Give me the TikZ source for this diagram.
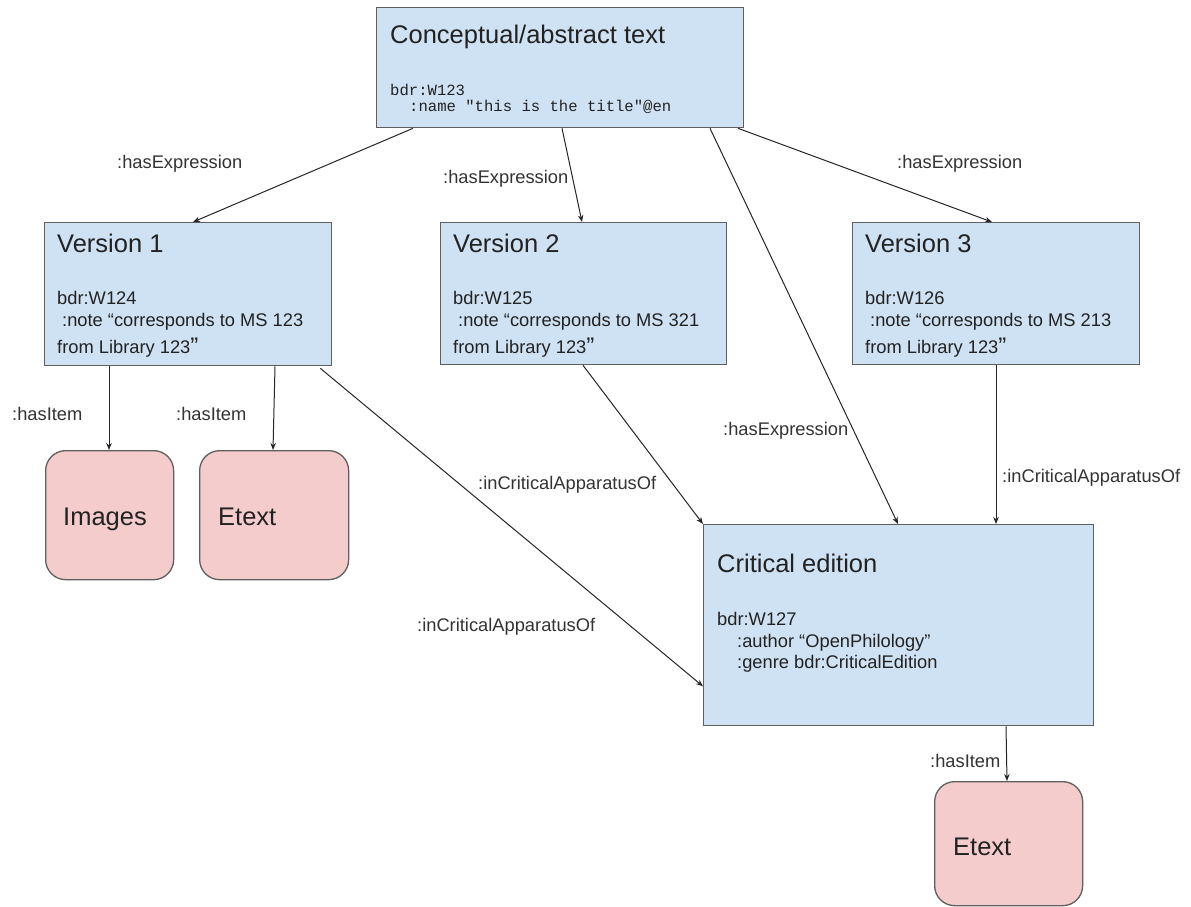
\documentclass[tikz,border=0pt]{standalone}
\usepackage{fontspec}
\setmainfont{Liberation Sans}
\newfontfamily\mycodefam{Liberation Mono}
\usetikzlibrary{arrows.meta}
\definecolor{boxblue}{HTML}{CFE2F3}
\definecolor{itempink}{HTML}{F4CCCC}
\definecolor{bordergray}{HTML}{5F5F5F}
\definecolor{txtcol}{HTML}{222222}
\newcommand\myhdr{\fontsize{25.5}{30}\selectfont}
\newcommand\mybody{\fontsize{18.3}{22}\selectfont}
\newcommand\mycode{\mycodefam\fontsize{15.6}{18}\selectfont}
\newcommand\bigq{{\fontsize{24}{24}\selectfont\raisebox{-1.5pt}{”}}}
\tikzset{
  box/.style={draw=bordergray, fill=boxblue, line width=1.3pt, inner sep=0pt, anchor=north west},
  itembox/.style={draw=bordergray, fill=itempink, line width=1.3pt, inner sep=0pt, anchor=north west, rounded corners=20pt},
  txt/.style={inner sep=0pt, anchor=base west, text=txtcol},
  hdr/.style={txt, font=\myhdr},
  bodytxt/.style={txt, font=\mybody},
  codetxt/.style={txt, font=\mycode},
  lbl/.style={txt, font=\mybody, text=black!80},
  conn/.style={draw=black!85, line width=1pt, -{Stealth[length=7pt,width=5.5pt]}}
}
\begin{document}
\begin{tikzpicture}[x=1pt,y=-1pt]
\useasboundingbox[fill=white] (0,0) rectangle (1191,906);

% boxes
\node[box, minimum width=367pt, minimum height=120pt] (top) at (376,7) {};
\node[box, minimum width=287pt, minimum height=143pt] (v1) at (44,222) {};
\node[box, minimum width=286pt, minimum height=142pt] (v2) at (440,222) {};
\node[box, minimum width=287pt, minimum height=142pt] (v3) at (852,222) {};
\node[itembox, minimum width=128pt, minimum height=129pt] (img) at (45,450) {};
\node[itembox, minimum width=149pt, minimum height=129pt] (et1) at (199,450) {};
\node[box, minimum width=390pt, minimum height=201pt] (crit) at (703,524) {};
\node[itembox, minimum width=148pt, minimum height=124pt] (et2) at (934,781) {};

% texts: top
\node[hdr] (toptitle) at (390,43) {Conceptual/abstract text};
\node[codetxt] (topid) at (390,95) {bdr:W123};
\node[codetxt] (topname) at (409,111) {:name "this is the title"@en};

% version 1
\node[hdr] (v1title) at (57,252) {Version 1};
\node[bodytxt] (v1id) at (57,304) {bdr:W124};
\node[bodytxt] (v1note) at (62,326) {:note “corresponds to MS 123};
\node[bodytxt] (v1lib) at (57,353) {from Library 123\bigq};

% version 2
\node[hdr] (v2title) at (453,252) {Version 2};
\node[bodytxt] (v2id) at (453,304) {bdr:W125};
\node[bodytxt] (v2note) at (458,326) {:note “corresponds to MS 321};
\node[bodytxt] (v2lib) at (453,353) {from Library 123\bigq};

% version 3
\node[hdr] (v3title) at (865,252) {Version 3};
\node[bodytxt] (v3id) at (865,304) {bdr:W126};
\node[bodytxt] (v3note) at (870,326) {:note “corresponds to MS 213};
\node[bodytxt] (v3lib) at (865,353) {from Library 123\bigq};

% items
\node[hdr] (imgtxt) at (63,525) {Images};
\node[hdr] (et1txt) at (218,525) {Etext};
\node[hdr] (et2txt) at (953,855) {Etext};

% critical edition
\node[hdr] (crittitle) at (717,572) {Critical edition};
\node[bodytxt] (critid) at (717,625) {bdr:W127};
\node[bodytxt] (critauth) at (737,647) {:author “OpenPhilology”};
\node[bodytxt] (critgenre) at (737,668) {:genre bdr:CriticalEdition};

% connectors
\draw[conn] ([xshift=37pt]top.south west) -- ([xshift=149pt]v1.north west);
\draw[conn] ([xshift=186pt]top.south west) -- ([xshift=142pt]v2.north west);
\draw[conn] ([xshift=334pt]top.south west) -- ([xshift=195pt]crit.north west);
\draw[conn] ([xshift=362pt]top.south west) -- ([xshift=140pt]v3.north west);
\draw[conn] ([xshift=65pt]v1.south west) -- ([xshift=64pt]img.north west);
\draw[conn] ([xshift=231pt]v1.south west) -- ([xshift=74pt]et1.north west);
\draw[conn] ([xshift=-12pt,yshift=-2pt]v1.south east) -- ([yshift=40pt]crit.south west);
\draw[conn] ([xshift=143pt]v2.south west) -- (crit.north west);
\draw[conn] ([xshift=144pt]v3.south west) -- ([xshift=293pt]crit.north west);
\draw[conn] ([xshift=303pt]crit.south west) -- ([xshift=73pt]et2.north west);

% labels
\node[lbl] (l1) at (117,168) {:hasExpression};
\node[lbl] (l2) at (443,183) {:hasExpression};
\node[lbl] (l3) at (897,168) {:hasExpression};
\node[lbl] (l4) at (723,435) {:hasExpression};
\node[lbl] (l5) at (12,420) {:hasItem};
\node[lbl] (l6) at (176,420) {:hasItem};
\node[lbl] (l7) at (930,767) {:hasItem};
\node[lbl] (l8) at (478,489) {:inCriticalApparatusOf};
\node[lbl] (l9) at (417,631) {:inCriticalApparatusOf};
\node[lbl] (l10) at (1002,482) {:inCriticalApparatusOf};
\end{tikzpicture}
\end{document}
